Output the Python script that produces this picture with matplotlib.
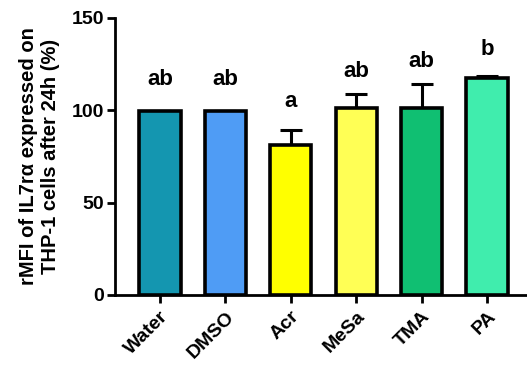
import numpy as np
import matplotlib
matplotlib.use('Agg')
import matplotlib.pyplot as plt

groups = ['Water', 'DMSO', 'Acr', 'MeSa', 'TMA', 'PA']
means = [99.5, 99.5, 81, 101, 101, 117.5]
errs = [0, 0, 8.5, 8, 13, 1]
letters = ['ab', 'ab', 'a', 'ab', 'ab', 'b']
letter_y = [116.5, 116.5, 104.5, 121, 126.5, 133]
colors = ['#1496B0', '#4F9CF5', '#FFFF00', '#FFFF55', '#10BF72', '#40EDAD']

plt.rcParams['font.family'] = ['Liberation Sans', 'DejaVu Sans']
plt.rcParams['font.weight'] = 'bold'

fig = plt.figure(figsize=(5.27, 3.66), dpi=100)
ax = fig.add_axes([0.218, 0.194, 0.782, 0.757])

x = np.arange(len(groups))
ax.bar(x, means, width=0.63, color=colors, edgecolor='black', linewidth=2.6, zorder=2)
ax.errorbar(x, means, yerr=[np.zeros(len(errs)), errs], fmt='none', ecolor='black',
            elinewidth=2.2, capsize=8, capthick=2.2, zorder=1)

for xi, lab, ly in zip(x, letters, letter_y):
    ax.text(xi, ly, lab, ha='center', va='center', fontsize=16, fontweight='bold')

ax.set_xlim(-0.69, 5.61)
ax.set_ylim(0, 150)
ax.set_yticks([0, 50, 100, 150])
ax.set_xticks(x)
ax.set_xticklabels(groups, rotation=45, ha='right', rotation_mode='anchor', fontsize=14, fontweight='bold')
ax.tick_params(axis='both', width=2, length=6)
ax.tick_params(axis='y', labelsize=14, pad=2)
for s in ['top', 'right']:
    ax.spines[s].set_visible(False)
for s in ['left', 'bottom']:
    ax.spines[s].set_linewidth(2)

ax.set_ylabel('rMFI of IL7r\u03b1 expressed on\nTHP-1 cells after 24h (%)', fontsize=14.5, fontweight='bold',
              labelpad=8, linespacing=1.2)

fig.savefig('out.png', dpi=100)
